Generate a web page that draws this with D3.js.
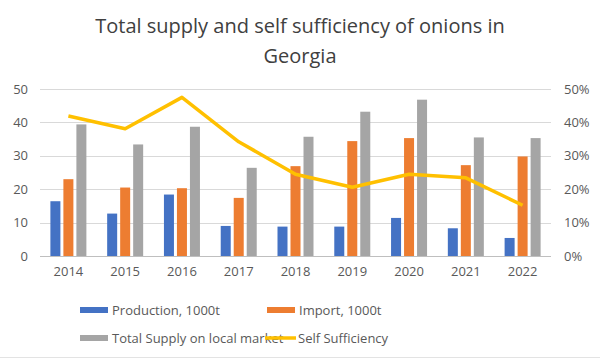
<!DOCTYPE html>
<html><head><meta charset="utf-8">
<script src="https://cdn.jsdelivr.net/npm/d3@7"></script>
<style>body{margin:0;background:#fff}svg{display:block}</style>
</head><body>
<script>
const years = ["2014","2015","2016","2017","2018","2019","2020","2021","2022"];
const production = [16.4, 12.7, 18.4, 9.0, 8.8, 8.8, 11.4, 8.3, 5.4];
const imports = [23.0, 20.5, 20.3, 17.4, 26.9, 34.4, 35.3, 27.2, 29.8];
const totalSupply = [39.4, 33.4, 38.7, 26.4, 35.7, 43.2, 46.8, 35.5, 35.3];
const selfSufficiency = [0.419, 0.381, 0.475, 0.342, 0.245, 0.206, 0.245, 0.234, 0.152];
const leftTicks = [0,10,20,30,40,50];
const rightTicks = [0,0.1,0.2,0.3,0.4,0.5];
const seriesNames = ["Production, 1000t","Import, 1000t","Total Supply on local market","Self Sufficiency"];
const colors = ["#4472C4","#ED7D31","#A5A5A5","#FFC000"];

const W=600,H=359;
const svg=d3.select("body").append("svg").attr("width",W).attr("height",H);
svg.append("rect").attr("x",0).attr("y",0).attr("width",W).attr("height",H).attr("fill","#fff");
svg.append("line").attr("x1",0).attr("x2",W).attr("y1",357.5).attr("y2",357.5).attr("stroke","#E3E3E3");
const font="'Open Sans', sans-serif";
const m={left:40,right:49,top:89,bottom:103};
const x=d3.scaleBand().domain(years).range([m.left,W-m.right]);
const y=d3.scaleLinear().domain([0,50]).range([H-m.bottom,m.top]);
const y2=d3.scaleLinear().domain([0,0.5]).range([H-m.bottom,m.top]);

// title
svg.append("text").attr("x",300).attr("y",33).attr("text-anchor","middle").attr("font-family",font).attr("font-size",20).attr("fill","#404040").text("Total supply and self sufficiency of onions in");
svg.append("text").attr("x",300).attr("y",63).attr("text-anchor","middle").attr("font-family",font).attr("font-size",20).attr("fill","#404040").text("Georgia");

// grid
svg.append("g").selectAll("line").data(leftTicks).join("line")
  .attr("x1",m.left).attr("x2",W-m.right).attr("y1",d=>Math.round(y(d))+0.5).attr("y2",d=>Math.round(y(d))+0.5)
  .attr("stroke",d=>d===0?"#BFBFBF":"#D9D9D9").attr("stroke-width",1);

// axes
const axL=svg.append("g").attr("transform",`translate(${m.left-12},0)`).call(d3.axisLeft(y).tickValues(leftTicks).tickSize(0).tickPadding(0));
const axR=svg.append("g").attr("transform",`translate(${W-m.right+13},0)`).call(d3.axisRight(y2).tickValues(rightTicks).tickSize(0).tickPadding(0).tickFormat(d3.format(".0%")));
const axB=svg.append("g").attr("transform",`translate(0,${H-m.bottom+8})`).call(d3.axisBottom(x).tickSize(0).tickPadding(0));
[axL,axR,axB].forEach(a=>{a.select(".domain").remove();a.selectAll("text").attr("font-family",font).attr("font-size",13).attr("fill","#595959");});
axB.selectAll("text").attr("dy","0.9em");

// bars
const series=[production,imports,totalSupply];
const bw=10, gap=3;
series.forEach((s,i)=>{
  svg.append("g").selectAll("rect").data(s).join("rect")
    .attr("x",(d,j)=>x(years[j])+x.bandwidth()/2-bw*1.5-gap+i*(bw+gap))
    .attr("width",bw).attr("y",d=>y(d)).attr("height",d=>y(0)-y(d)).attr("fill",colors[i]);
});

// line
const line=d3.line().x((d,i)=>x(years[i])+x.bandwidth()/2).y(d=>y2(d));
svg.append("path").datum(selfSufficiency).attr("d",line).attr("fill","none").attr("stroke",colors[3]).attr("stroke-width",3.5).attr("stroke-linejoin","round");

// legend
const leg=[{x:80,y:310},{x:267,y:310},{x:80,y:338},{x:265,y:338}];
seriesNames.forEach((n,i)=>{
  const g=svg.append("g").attr("transform",`translate(${leg[i].x},${leg[i].y})`);
  if(i<3) g.append("rect").attr("x",0).attr("y",-3).attr("width",28).attr("height",6).attr("fill",colors[i]);
  else g.append("line").attr("x1",0).attr("x2",31).attr("y1",0).attr("y2",0).attr("stroke",colors[i]).attr("stroke-width",3.5);
  g.append("text").attr("x",i<3?32:33).attr("y",0).attr("dy","0.35em").attr("font-family",font).attr("font-size",13).attr("fill","#595959").text(n);
});
</script>
</body></html>
